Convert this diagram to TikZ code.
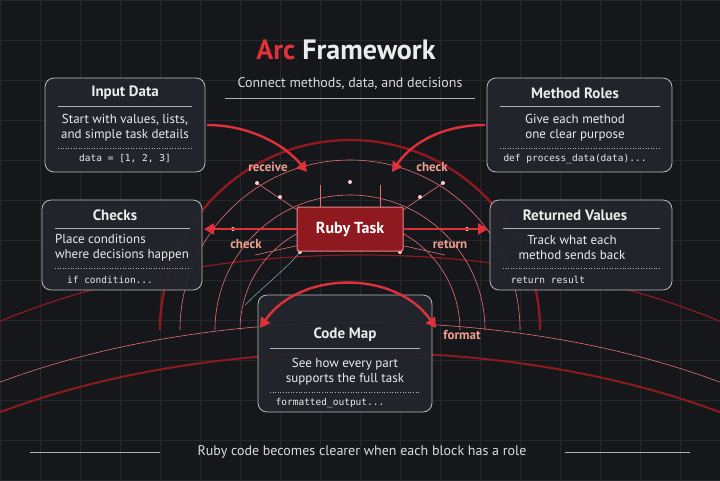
\documentclass[tikz,border=0pt]{standalone}
\usepackage{fontspec}
\setmainfont{PT Sans}
\setmonofont{DejaVu Sans Mono}
\usetikzlibrary{arrows.meta}
\definecolor{bg}{HTML}{15171B}
\definecolor{boxbg}{HTML}{22252B}
\definecolor{redA}{HTML}{E0303A}
\definecolor{redD}{HTML}{8E1A20}
\definecolor{txt}{HTML}{ECECEC}
\definecolor{lbl}{HTML}{F0A090}
\tikzset{
  panel/.style={draw=gray!55, line width=0.8pt, fill=boxbg, rounded corners=9pt, fill opacity=0.94},
  ttl/.style={text=txt, font=\bfseries\fontsize{15}{17}\selectfont},
  body/.style={text=txt, font=\fontsize{13}{15}\selectfont, align=center},
  code/.style={text=txt, font=\ttfamily\fontsize{9.5}{11}\selectfont},
  sep/.style={draw=gray!60, line width=0.6pt},
  dsep/.style={draw=gray!60, line width=0.6pt, dotted},
  flow/.style={draw=redA, line width=2.4pt, -{Triangle[length=10pt,width=11pt]}},
  deco/.style={draw=redD, line width=1.2pt},
  decoL/.style={draw=redA!70, line width=0.6pt},
  lab/.style={text=lbl, font=\bfseries\fontsize{13}{15}\selectfont},
}
\begin{document}
\begin{tikzpicture}[x=1pt,y=-1pt]
\fill[bg] (0,0) rectangle (720,480);
\useasboundingbox (0,0) rectangle (720,480);
% grid
\foreach \x in {0,40,...,720} \draw[white!7!bg,line width=0.4pt] (\x,0) -- (\x,480);
\foreach \y in {0,40,...,480} \draw[white!7!bg,line width=0.4pt] (0,\y) -- (720,\y);
% decorative arcs
\draw[deco] (-20,330) .. controls (200,230) and (520,230) .. (740,330);
\draw[deco,line width=2pt] (-20,420) .. controls (200,330) and (520,330) .. (740,420);
\draw[decoL] (-20,390) .. controls (200,300) and (520,300) .. (740,390);
\draw[deco,line width=2.4pt] (160,330) arc[start angle=180,end angle=360,radius=190];
\draw[decoL] (180,330) arc[start angle=180,end angle=360,radius=170];
\draw[decoL] (215,330) arc[start angle=180,end angle=360,radius=135];
\draw[decoL] (240,330) arc[start angle=180,end angle=360,radius=110];
\draw[decoL] (257,183) -- (300,212) (443,183) -- (400,212) (255,255) -- (300,245) (445,255) -- (400,245);
\draw[decoL] (320,185) -- (320,207) (380,185) -- (380,207);
\draw[draw=cyan!40!gray, line width=0.6pt] (245,305) .. controls (265,285) and (285,270) .. (300,252);
\foreach \p in {(257,183),(233,229),(280,197),(420,197),(350,182),(467,229),(443,183),(300,252),(400,252)}
  \fill[white!80!red] \p circle (2pt);
% boxes
\draw[panel] (45,78) rectangle (205,172);
\node[ttl] (in) at (125,93) {Input Data};
\draw[sep] (58,106) -- (192,106);
\node[body] (int) at (125,128) {Start with values, lists,\\and simple task details};
\draw[dsep] (58,148) -- (192,148);
\node[code] (inc) at (125,159) {data = [1, 2, 3]};

\draw[panel] (487,78) rectangle (672,172);
\node[ttl] (mr) at (575,93) {Method Roles};
\draw[sep] (500,106) -- (660,106);
\node[body] (mrt) at (575,128) {Give each method\\one clear purpose};
\draw[dsep] (500,148) -- (660,148);
\node[code] (mrc) at (575,159) {def process\_data(data)...};

\draw[panel] (42,200) rectangle (202,290);
\node[ttl] (ck) at (115,215) {Checks};
\draw[sep] (55,228) -- (190,228);
\node[body,align=left] (ckt) at (122,248) {Place conditions\\where decisions happen};
\draw[dsep] (55,268) -- (190,268);
\node[code] (ckc) at (110,280) {if condition...};

\draw[panel] (490,200) rectangle (672,290);
\node[ttl] (rv) at (575,215) {Returned Values};
\draw[sep] (503,228) -- (660,228);
\node[body] (rvt) at (572,248) {Track what each\\method sends back};
\draw[dsep] (503,268) -- (660,268);
\node[code] (rvc) at (548,280) {return result};

\draw[panel] (258,295) rectangle (432,412);
\node[ttl] (cm) at (345,335) {Code Map};
\draw[sep] (270,348) -- (420,348);
\node[body] (cmt) at (345,372) {See how every part\\supports the full task};
\draw[dsep] (270,392) -- (420,392);
\node[code] (cmc) at (330,403) {formatted\_output...};

% ruby task
\node[draw=redA!60!white, line width=1pt, fill=redD, rounded corners=2pt,
      minimum width=106pt, minimum height=44pt, text=white,
      font=\bfseries\fontsize{16}{18}\selectfont] (rt) at (350,229) {Ruby Task};

% flows
\coordinate (a1) at (207,125);
\coordinate (a2) at (307,172);
\draw[flow] (a1) .. controls (250,125) and (285,145) .. (a2);
\coordinate (b1) at (485,125);
\coordinate (b2) at (392,172);
\draw[flow] (b1) .. controls (440,125) and (410,145) .. (b2);
\coordinate (ckr) at (204,229);
\coordinate (rvl) at (488,229);
\draw[flow] (rt.west) -- (ckr);
\draw[flow] (rt.east) -- (rvl);
\coordinate (f1) at (260,328);
\coordinate (f2) at (436,328);
\draw[flow,{Triangle[length=10pt,width=11pt]}-{Triangle[length=10pt,width=11pt]}] (f1) .. controls (300,270) and (396,270) .. (f2);

% labels
\node[lab] (l1) at (268,167) {receive};
\node[lab] (l2) at (432,167) {check};
\node[lab] (l3) at (246,244) {check};
\node[lab] (l4) at (450,244) {return};
\node[lab] (l5) at (462,335) {format};

% title
\node[font=\bfseries\fontsize{28}{30}\selectfont] (title) at (346,50) {\textcolor{redA}{Arc} \textcolor{txt}{Framework}};
\node[text=txt!85!gray, font=\fontsize{14}{16}\selectfont] (sub) at (350,84) {Connect methods, data, and decisions};
\draw[sep] (225,98) -- (475,98);
\node[text=txt!85!gray, font=\fontsize{14}{16}\selectfont] (foot) at (362,452) {Ruby code becomes clearer when each block has a role};
\draw[sep] (30,452) -- (160,452) (565,452) -- (690,452);
\end{tikzpicture}
\end{document}
